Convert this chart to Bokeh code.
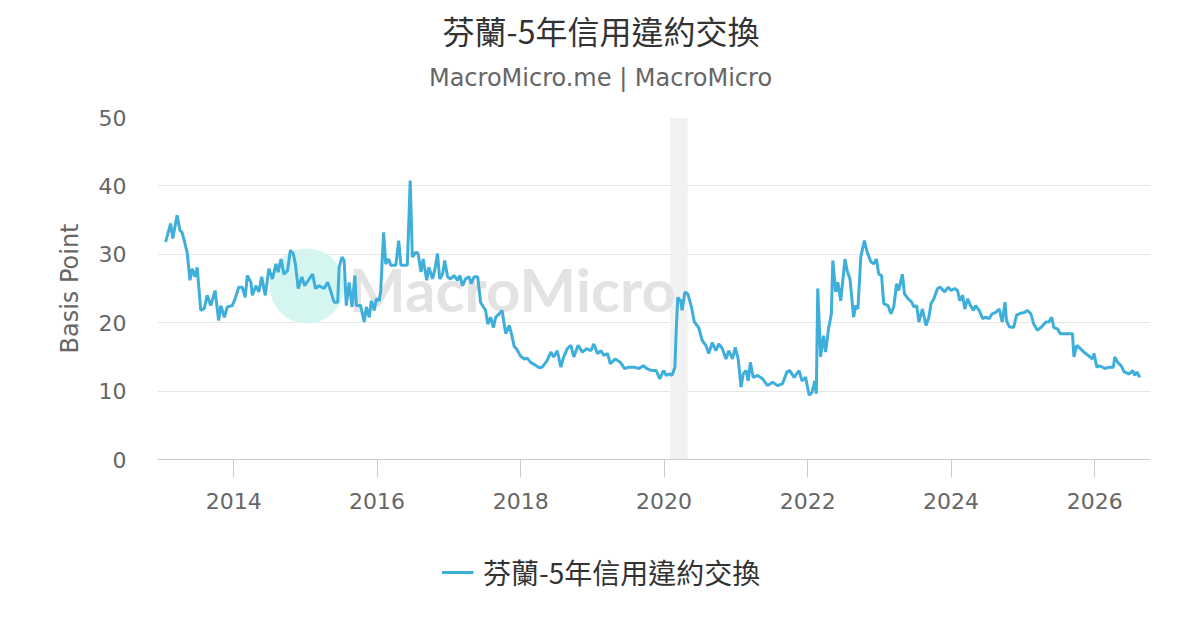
from datetime import datetime
from bokeh.plotting import figure
from bokeh.layouts import column
from bokeh.models import (Range1d, FixedTicker, Legend, LegendItem,
                          BoxAnnotation, Label, ColumnDataSource, DatetimeTickFormatter)
from bokeh.embed import file_html
from bokeh.resources import INLINE

title_text = "芬蘭-5年信用違約交換"
subtitle_text = "MacroMicro.me | MacroMicro"
series_name = "芬蘭-5年信用違約交換"
y_axis_title = "Basis Point"
y_ticks = [0, 10, 20, 30, 40, 50]
x_tick_years = [2014, 2016, 2018, 2020, 2022, 2024, 2026]
recession_start = datetime(2020, 2, 1)
recession_end = datetime(2020, 4, 30)
watermark_text = "MacroMicro"

# time as decimal year, value in basis points
year_frac = [
    2013.05, 2013.12, 2013.15, 2013.21, 2013.25, 2013.28, 2013.31, 2013.35, 2013.39, 2013.42,
    2013.46, 2013.49, 2013.54, 2013.59, 2013.63, 2013.68, 2013.74, 2013.79, 2013.82, 2013.87,
    2013.91, 2013.98, 2014.02, 2014.07, 2014.12, 2014.16, 2014.19, 2014.24, 2014.26, 2014.31,
    2014.35, 2014.39, 2014.44, 2014.49, 2014.54, 2014.59, 2014.62, 2014.66, 2014.70, 2014.75,
    2014.79, 2014.83, 2014.86, 2014.90, 2014.95, 2014.99, 2015.04, 2015.10, 2015.14, 2015.19,
    2015.26, 2015.31, 2015.35, 2015.40, 2015.45, 2015.47, 2015.51, 2015.54, 2015.57, 2015.61,
    2015.65, 2015.69, 2015.71, 2015.77, 2015.82, 2015.85, 2015.89, 2015.92, 2015.96, 2015.99,
    2016.03, 2016.05, 2016.09, 2016.12, 2016.16, 2016.19, 2016.26, 2016.30, 2016.33, 2016.42,
    2016.46, 2016.49, 2016.54, 2016.57, 2016.61, 2016.64, 2016.69, 2016.72, 2016.77, 2016.80,
    2016.84, 2016.87, 2016.91, 2016.94, 2016.98, 2017.02, 2017.07, 2017.12, 2017.15, 2017.19,
    2017.23, 2017.28, 2017.31, 2017.35, 2017.40, 2017.44, 2017.48, 2017.51, 2017.54, 2017.58,
    2017.62, 2017.65, 2017.70, 2017.74, 2017.79, 2017.84, 2017.87, 2017.91, 2017.94, 2018.00,
    2018.05, 2018.09, 2018.14, 2018.20, 2018.26, 2018.30, 2018.37, 2018.42, 2018.46, 2018.51,
    2018.56, 2018.60, 2018.65, 2018.70, 2018.74, 2018.80, 2018.86, 2018.92, 2018.98, 2019.02,
    2019.07, 2019.12, 2019.16, 2019.21, 2019.25, 2019.32, 2019.39, 2019.45, 2019.51, 2019.58,
    2019.65, 2019.71, 2019.76, 2019.83, 2019.89, 2019.94, 2019.99, 2020.03, 2020.08, 2020.11,
    2020.15, 2020.17, 2020.19, 2020.23, 2020.25, 2020.29, 2020.33, 2020.38, 2020.42, 2020.48,
    2020.53, 2020.58, 2020.62, 2020.67, 2020.72, 2020.76, 2020.81, 2020.86, 2020.90, 2020.95,
    2020.99, 2021.03, 2021.07, 2021.10, 2021.14, 2021.17, 2021.20, 2021.24, 2021.30, 2021.37,
    2021.44, 2021.51, 2021.58, 2021.65, 2021.71, 2021.75, 2021.81, 2021.88, 2021.92, 2021.97,
    2022.02, 2022.06, 2022.10, 2022.12, 2022.14, 2022.18, 2022.22, 2022.25, 2022.29, 2022.33,
    2022.35, 2022.39, 2022.42, 2022.46, 2022.52, 2022.55, 2022.59, 2022.64, 2022.67, 2022.70,
    2022.74, 2022.79, 2022.83, 2022.88, 2022.92, 2022.96, 2022.99, 2023.03, 2023.06, 2023.12,
    2023.16, 2023.20, 2023.24, 2023.27, 2023.32, 2023.35, 2023.40, 2023.45, 2023.48, 2023.52,
    2023.55, 2023.60, 2023.65, 2023.69, 2023.72, 2023.76, 2023.81, 2023.85, 2023.91, 2023.96,
    2024.00, 2024.05, 2024.09, 2024.12, 2024.16, 2024.19, 2024.23, 2024.27, 2024.31, 2024.34,
    2024.39, 2024.44, 2024.48, 2024.53, 2024.57, 2024.62, 2024.67, 2024.71, 2024.75, 2024.77,
    2024.81, 2024.87, 2024.91, 2024.97, 2025.02, 2025.06, 2025.11, 2025.15, 2025.20, 2025.26,
    2025.32, 2025.36, 2025.40, 2025.43, 2025.48, 2025.52, 2025.60, 2025.69, 2025.71, 2025.75,
    2025.80, 2025.85, 2025.91, 2025.97, 2025.99, 2026.03, 2026.07, 2026.14, 2026.20, 2026.26,
    2026.28, 2026.32, 2026.37, 2026.41, 2026.48, 2026.53, 2026.56, 2026.59, 2026.63,
]
cds_bp = [
    31.8, 34.5, 32.3, 35.7, 33.5, 33.2, 32.0, 30.3, 26.2, 27.9,
    26.7, 28.1, 21.8, 22.1, 24.0, 22.5, 24.7, 20.3, 22.5, 20.8,
    22.3, 22.5, 23.5, 25.2, 25.2, 23.7, 26.9, 25.9, 24.0, 25.4,
    24.5, 26.7, 24.0, 27.9, 26.4, 28.6, 27.4, 29.3, 27.1, 27.6,
    30.6, 30.1, 28.6, 25.0, 26.7, 25.4, 26.2, 27.1, 25.0, 25.4,
    25.0, 25.9, 24.7, 23.0, 23.0, 28.1, 29.6, 29.1, 22.5, 25.9,
    22.3, 26.9, 22.5, 22.5, 20.1, 22.3, 20.8, 23.2, 21.8, 23.5,
    23.2, 24.7, 33.2, 28.6, 29.3, 28.4, 28.4, 32.0, 28.4, 28.4,
    40.8, 29.6, 30.3, 30.1, 27.4, 29.3, 26.2, 28.1, 26.4, 27.6,
    30.1, 26.4, 27.1, 29.1, 26.7, 26.4, 26.9, 26.2, 26.9, 25.4,
    26.4, 26.7, 25.7, 26.7, 26.7, 23.0, 22.3, 21.8, 19.8, 20.8,
    19.3, 20.8, 21.3, 21.8, 18.4, 19.6, 18.4, 16.5, 16.2, 15.1,
    14.7, 14.8, 14.2, 13.8, 13.4, 13.5, 14.5, 15.7, 15.0, 15.9,
    13.5, 15.0, 16.2, 16.7, 15.0, 16.7, 15.7, 16.2, 15.9, 16.9,
    15.5, 15.9, 15.2, 15.5, 14.0, 14.7, 14.2, 13.3, 13.5, 13.5,
    13.3, 13.7, 13.3, 13.0, 13.0, 11.8, 13.0, 12.3, 12.5, 12.3,
    13.5, 19.3, 23.7, 23.2, 21.8, 24.5, 24.2, 22.3, 20.1, 19.3,
    17.4, 16.7, 15.5, 17.1, 15.9, 16.9, 16.2, 14.7, 15.9, 14.7,
    16.4, 14.7, 10.6, 12.5, 13.0, 11.5, 14.2, 12.0, 12.3, 11.8,
    10.8, 11.3, 10.8, 11.1, 12.8, 13.0, 12.0, 13.0, 11.5, 12.0,
    9.4, 9.8, 11.5, 9.6, 25.0, 15.0, 18.1, 15.7, 19.1, 21.3,
    29.1, 24.5, 25.9, 23.2, 29.3, 27.6, 26.4, 20.8, 22.5, 22.0,
    29.6, 32.0, 30.3, 28.9, 28.6, 29.3, 27.1, 26.9, 22.8, 22.5,
    21.3, 22.3, 25.7, 24.7, 27.1, 24.2, 23.5, 23.0, 22.3, 22.5,
    20.1, 22.0, 19.6, 20.8, 22.8, 23.5, 25.0, 25.2, 24.5, 25.2,
    24.7, 25.0, 24.7, 23.2, 24.0, 22.0, 23.5, 22.5, 21.8, 22.5,
    21.8, 20.6, 20.8, 20.6, 21.3, 21.5, 22.0, 20.1, 23.0, 20.3,
    19.4, 19.3, 21.1, 21.4, 21.5, 21.8, 21.3, 19.8, 18.9, 19.4,
    20.1, 20.1, 20.8, 19.3, 19.1, 18.4, 18.4, 18.4, 15.0, 16.7,
    16.2, 15.7, 15.2, 14.7, 15.5, 13.5, 13.7, 13.3, 13.5, 13.5,
    15.0, 14.2, 13.7, 12.8, 12.5, 13.0, 12.3, 12.8, 12.0,
]


def to_dt(y):
    yi = int(y)
    a = datetime(yi, 1, 1)
    b = datetime(yi + 1, 1, 1)
    return a + (b - a) * (y - yi)


def ms(d):
    return (d - datetime(1970, 1, 1)).total_seconds() * 1000.0


dates = [to_dt(y) for y in year_frac]
src = ColumnDataSource(data=dict(date=dates, bp=cds_bp))

W = 1184
HEAD_H = 105
FRAME_L, FRAME_W, FRAME_H = 157, 993, 342
TOP_PAD, BOT_PAD = 12, 70
FOOT_H = 614 - HEAD_H - TOP_PAD - FRAME_H - BOT_PAD
LINE_COLOR = "#3eaedb"


def bare_fig(h, x_range, y_range):
    f = figure(width=W, height=h, output_backend="svg", toolbar_location=None,
               x_axis_location=None, y_axis_location=None,
               x_range=x_range, y_range=y_range,
               min_border_left=0, min_border_right=0,
               min_border_top=0, min_border_bottom=0)
    f.title = None
    f.outline_line_color = None
    f.grid.visible = False
    f.border_fill_color = "white"
    f.background_fill_color = "white"
    return f


# ---- header (title + subtitle); the column aligns its frame with the chart frame ----
head = bare_fig(HEAD_H, Range1d(FRAME_L, FRAME_L + FRAME_W), Range1d(HEAD_H, 0))
head.add_layout(Label(x=600.5, y=29, text=title_text, text_align="center",
                      text_baseline="middle", text_font="Noto Sans CJK TC",
                      text_font_size="32px", text_color="#333333"))
head.add_layout(Label(x=600, y=77, text=subtitle_text, text_align="center",
                      text_baseline="middle", text_font="DejaVu Sans",
                      text_font_size="24px", text_color="#666666"))

# ---- main chart ----
p = figure(width=W, height=TOP_PAD + FRAME_H + BOT_PAD, output_backend="svg",
           toolbar_location=None, x_axis_type="datetime",
           x_range=Range1d(datetime(2012, 12, 9), datetime(2026, 10, 12)),
           y_range=Range1d(y_ticks[0], y_ticks[-1]),
           frame_width=FRAME_W, frame_height=FRAME_H,
           min_border_left=FRAME_L, min_border_right=W - FRAME_L - FRAME_W,
           min_border_top=TOP_PAD, min_border_bottom=BOT_PAD)
p.title = None
p.outline_line_color = None
p.background_fill_color = "white"
p.border_fill_color = "white"

p.add_layout(BoxAnnotation(left=ms(recession_start), right=ms(recession_end),
                           fill_color="#f2f2f2", fill_alpha=1.0, line_color=None,
                           level="underlay"))

# watermark
p.add_layout(BoxAnnotation(left=112, right=187, bottom=136, top=211,
                           left_units="screen", right_units="screen",
                           top_units="screen", bottom_units="screen",
                           fill_color="#d5f6f0", fill_alpha=1.0, line_color=None,
                           border_radius=38, level="underlay"))
p.add_layout(Label(x=355, y=171, x_units="screen", y_units="screen",
                   text=watermark_text, text_align="center", text_baseline="middle",
                   text_font="Lato", text_font_style="bold",
                   text_font_size="60px", text_color="#e3e3e3", level="underlay"))

r = p.line("date", "bp", source=src, line_color=LINE_COLOR, line_width=3)

p.xgrid.grid_line_color = None
p.ygrid.grid_line_color = "#e6e6e6"
p.ygrid.grid_line_width = 1
p.ygrid.ticker = FixedTicker(ticks=y_ticks)

p.yaxis.ticker = FixedTicker(ticks=y_ticks)
p.yaxis.axis_line_color = None
p.yaxis.major_tick_line_color = None
p.yaxis.minor_tick_line_color = None
p.yaxis.major_label_standoff = 25
p.yaxis.major_label_text_font = "DejaVu Sans"
p.yaxis.major_label_text_font_size = "22px"
p.yaxis.major_label_text_color = "#666666"
p.yaxis.axis_label = y_axis_title
p.yaxis.axis_label_text_font = "DejaVu Sans"
p.yaxis.axis_label_text_font_size = "24px"
p.yaxis.axis_label_text_font_style = "normal"
p.yaxis.axis_label_text_color = "#666666"
p.yaxis.axis_label_standoff = 12

p.xaxis.ticker = FixedTicker(ticks=[ms(datetime(y, 1, 1)) for y in x_tick_years])
p.xaxis.formatter = DatetimeTickFormatter(years="%Y", months="%Y", days="%Y",
                                          hours="%Y", minutes="%Y", seconds="%Y",
                                          milliseconds="%Y")
p.xaxis.axis_line_color = "#cccccc"
p.xaxis.axis_line_width = 1
p.xaxis.major_tick_line_color = "#cccccc"
p.xaxis.major_tick_out = 18
p.xaxis.major_tick_in = 0
p.xaxis.minor_tick_line_color = None
p.xaxis.major_label_standoff = 15
p.xaxis.major_label_text_font = "DejaVu Sans"
p.xaxis.major_label_text_font_size = "22px"
p.xaxis.major_label_text_color = "#666666"

# ---- footer (legend); its frame is aligned with the chart frame (157..1150) ----
foot = bare_fig(FOOT_H, Range1d(0, 1), Range1d(0, 1))
r_leg = foot.line("date", "bp", source=src, line_color=LINE_COLOR, line_width=3)
legend = Legend(items=[LegendItem(label=series_name, renderers=[r_leg])],
                orientation="horizontal", location="center",
                border_line_color=None, background_fill_alpha=0,
                label_text_font="Noto Sans CJK TC",
                label_text_font_size="28px", label_text_color="#333333",
                glyph_width=32, glyph_height=24, label_standoff=10,
                label_width=383, padding=0, margin=0, spacing=0)
foot.add_layout(legend, "center")

layout = column(head, p, foot, spacing=0)
open("out.html", "w").write(file_html(layout, INLINE))
